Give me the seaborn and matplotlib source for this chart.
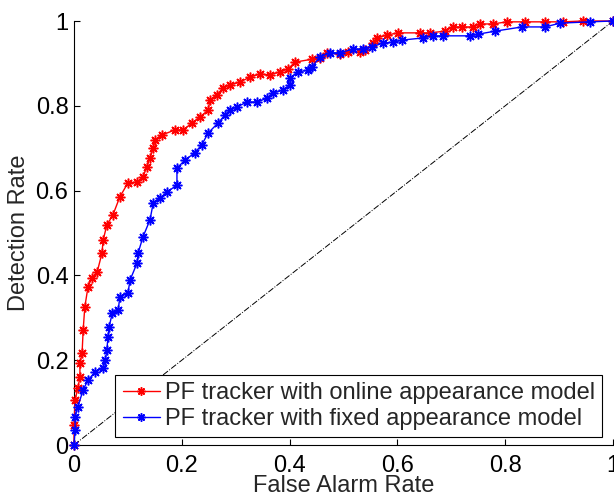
import matplotlib
matplotlib.use("Agg")
import matplotlib.pyplot as plt
import seaborn as sns
import pandas as pd

# ---- data ----
online_far = [0.0, 0.0, 0.002, 0.007, 0.011, 0.011, 0.015, 0.017, 0.020, 0.026,
              0.033, 0.043, 0.052, 0.054, 0.061, 0.072, 0.085, 0.100, 0.117, 0.128,
              0.135, 0.141, 0.147, 0.150, 0.163, 0.187, 0.202, 0.219, 0.234, 0.249,
              0.252, 0.265, 0.276, 0.289, 0.308, 0.327, 0.345, 0.364, 0.382, 0.397,
              0.410, 0.442, 0.456, 0.469, 0.494, 0.508, 0.531, 0.540, 0.555, 0.562,
              0.581, 0.601, 0.642, 0.660, 0.688, 0.703, 0.720, 0.740, 0.753, 0.777,
              0.803, 0.837, 0.874, 0.907, 0.944, 1.0]
online_dr = [0.0, 0.047, 0.106, 0.134, 0.160, 0.193, 0.217, 0.271, 0.325, 0.373,
             0.394, 0.408, 0.453, 0.483, 0.519, 0.542, 0.585, 0.618, 0.620, 0.632,
             0.656, 0.677, 0.700, 0.719, 0.731, 0.743, 0.743, 0.759, 0.774, 0.790,
             0.814, 0.825, 0.842, 0.849, 0.856, 0.868, 0.875, 0.873, 0.880, 0.887,
             0.903, 0.910, 0.913, 0.925, 0.922, 0.927, 0.927, 0.932, 0.948, 0.960,
             0.967, 0.972, 0.972, 0.972, 0.976, 0.986, 0.986, 0.986, 0.993, 0.993,
             0.998, 0.998, 0.998, 0.998, 1.0, 1.0]

fixed_far = [0.0, 0.002, 0.002, 0.007, 0.017, 0.026, 0.039, 0.054, 0.058, 0.061,
             0.063, 0.065, 0.071, 0.082, 0.085, 0.100, 0.104, 0.117, 0.119, 0.128,
             0.141, 0.147, 0.160, 0.173, 0.191, 0.191, 0.206, 0.224, 0.237, 0.249,
             0.267, 0.280, 0.289, 0.302, 0.321, 0.340, 0.358, 0.369, 0.388, 0.401,
             0.401, 0.416, 0.434, 0.442, 0.456, 0.475, 0.494, 0.518, 0.536, 0.553,
             0.573, 0.592, 0.609, 0.647, 0.666, 0.685, 0.735, 0.750, 0.781, 0.831,
             0.874, 0.902, 0.957, 1.0]
fixed_dr = [0.0, 0.035, 0.066, 0.090, 0.130, 0.153, 0.172, 0.182, 0.200, 0.224,
            0.255, 0.278, 0.311, 0.318, 0.349, 0.358, 0.389, 0.429, 0.453, 0.491,
            0.531, 0.571, 0.583, 0.597, 0.613, 0.653, 0.672, 0.689, 0.708, 0.736,
            0.759, 0.778, 0.790, 0.797, 0.809, 0.809, 0.818, 0.830, 0.837, 0.849,
            0.866, 0.880, 0.884, 0.892, 0.915, 0.925, 0.925, 0.934, 0.934, 0.939,
            0.948, 0.950, 0.955, 0.960, 0.965, 0.965, 0.965, 0.969, 0.976, 0.986,
            0.986, 0.995, 0.998, 1.0]

chance = [0.0, 1.0]
ticks = [0, 0.2, 0.4, 0.6, 0.8, 1]
tick_labels = ["0", "0.2", "0.4", "0.6", "0.8", "1"]
label_online = "PF tracker with online appearance model"
label_fixed = "PF tracker with fixed appearance model"

sns.set_style("white")
plt.rcParams["font.family"] = ["Liberation Sans", "DejaVu Sans"]

fig = plt.figure(figsize=(6.14, 4.96), dpi=100)
ax = fig.add_axes([74 / 614, 1 - 445 / 496, 539 / 614, 424 / 496])

df_on = pd.DataFrame({"x": online_far, "y": online_dr})
df_fx = pd.DataFrame({"x": fixed_far, "y": fixed_dr})

ax.plot(chance, chance, color="black", linestyle="-.", linewidth=0.7, zorder=1)

ast = (8, 2, 0)
sns.lineplot(data=df_on, x="x", y="y", ax=ax, estimator=None, sort=False,
             color="#ff0000", linewidth=1.0, marker=ast, markersize=7,
             markeredgewidth=1.1, markeredgecolor="#ff0000",
             label=label_online, clip_on=False, zorder=3)
sns.lineplot(data=df_fx, x="x", y="y", ax=ax, estimator=None, sort=False,
             color="#0000ff", linewidth=1.0, marker=ast, markersize=7,
             markeredgewidth=1.1, markeredgecolor="#0000ff",
             label=label_fixed, clip_on=False, zorder=3)

ax.set_xlim(0, 1)
ax.set_ylim(0, 1)
ax.set_xticks(ticks)
ax.set_xticklabels(tick_labels)
ax.set_yticks(ticks)
ax.set_yticklabels(tick_labels)
ax.tick_params(direction="in", length=4, width=0.8, labelsize=17,
               colors="black", top=False, right=False, left=True, bottom=True)
ax.tick_params(axis="x", pad=7)
ax.tick_params(axis="y", pad=4)
ax.set_xlabel("False Alarm Rate", fontsize=17, labelpad=-1)
ax.set_ylabel("Detection Rate", fontsize=17, labelpad=4)

for s in ["top", "right"]:
    ax.spines[s].set_visible(False)
for s in ["left", "bottom"]:
    ax.spines[s].set_color("black")
    ax.spines[s].set_linewidth(0.8)

leg = ax.legend(loc="lower right", bbox_to_anchor=(0.980, 0.019),
                fontsize=17, frameon=True, fancybox=False, framealpha=1,
                edgecolor="black", handlelength=1.6, handletextpad=0.2,
                borderpad=0.3, labelspacing=0.15, borderaxespad=0)
leg.get_frame().set_linewidth(0.8)
for h in leg.get_lines():
    h.set_markersize(6)

fig.savefig("out.png", dpi=100)
